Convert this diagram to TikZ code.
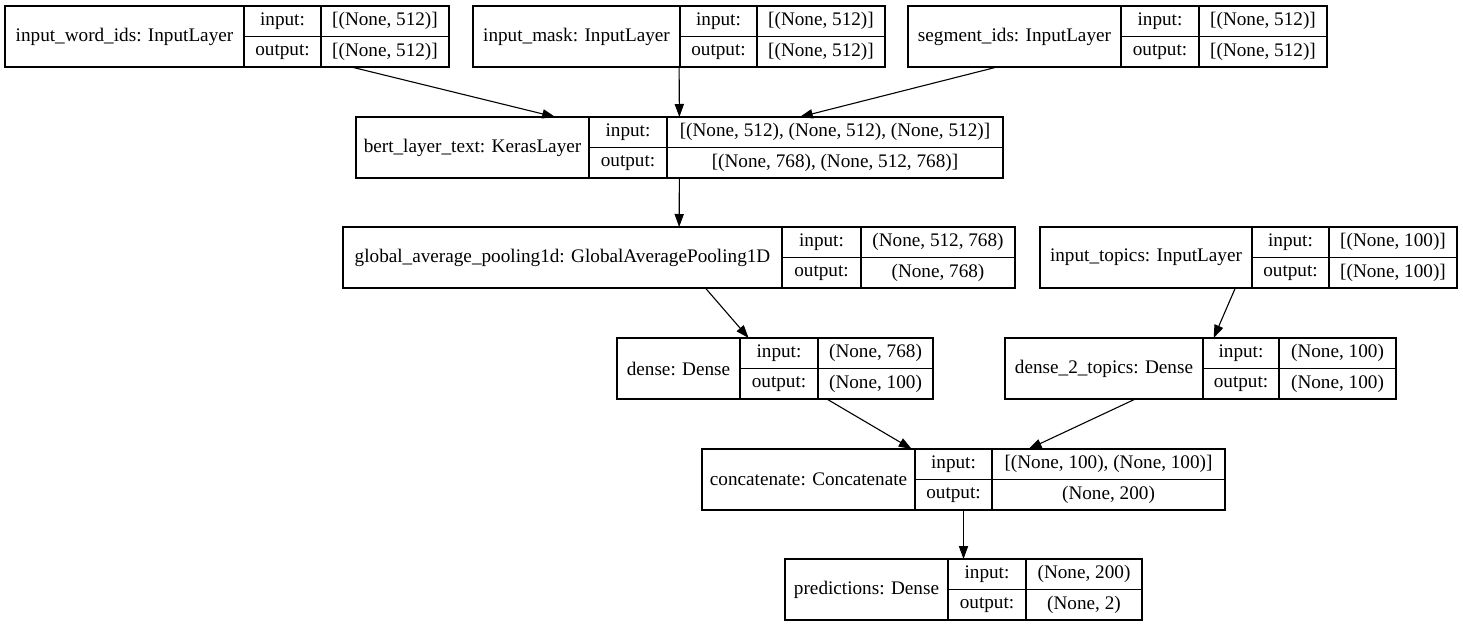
\documentclass[tikz,border=0pt]{standalone}
\usepackage{fontspec}
\setmainfont{Liberation Serif}
\usetikzlibrary{arrows.meta,positioning}

% one keras layer record: id, x1, x2, x3, x4, ytop, name, input, output
\newcommand{\kerasbox}[9]{%
\node[layer box, minimum width={(#5-#2)*0.5pt}, minimum height=30.5pt] (#1) at (#2,#6) {};
\node[cell box, minimum width={(#3-#2)*0.5pt}, minimum height=30.5pt] (#1-name) at (#2,#6) {#7};
\node[cell box, minimum width={(#4-#3)*0.5pt}] (#1-inl) at (#3,#6) {input:};
\node[cell box, minimum width={(#4-#3)*0.5pt}] (#1-outl) at ({#3},{#6+30.5}) {output:};
\node[cell box, minimum width={(#5-#4)*0.5pt}] (#1-in) at (#4,#6) {#8};
\node[cell box, minimum width={(#5-#4)*0.5pt}] (#1-out) at ({#4},{#6+30.5}) {#9};
}

\begin{document}
\begin{tikzpicture}[x=0.5pt, y=-0.5pt, font=\fontsize{9.6}{11}\selectfont,
layer box/.style={draw, line width=0.6pt, inner sep=0pt, outer sep=0pt, anchor=north west},
cell box/.style={draw, line width=0.6pt, inner sep=0pt, outer sep=0pt, anchor=north west, minimum height=15.25pt, align=center},
flow/.style={-{Triangle[length=6.5pt,width=4.6pt]}, line width=0.55pt}]
\useasboundingbox (0,0) rectangle (1463,627);
\begin{scope}
\kerasbox{wordids}{5}{244}{321}{449}{6}{input\_word\_ids: InputLayer}{[(None, 512)]}{[(None, 512)]}
\kerasbox{mask}{473}{680}{757}{885}{6}{input\_mask: InputLayer}{[(None, 512)]}{[(None, 512)]}
\kerasbox{segment}{908}{1121}{1199}{1327}{6}{segment\_ids: InputLayer}{[(None, 512)]}{[(None, 512)]}
\kerasbox{bert}{356}{589}{667}{1003}{117}{bert\_layer\_text: KerasLayer}{[(None, 512), (None, 512), (None, 512)]}{[(None, 768), (None, 512, 768)]}
\kerasbox{pool}{343}{782}{861}{1015}{227}{global\_average\_pooling1d: GlobalAveragePooling1D}{(None, 512, 768)}{(None, 768)}
\kerasbox{topics}{1040}{1252}{1329}{1457}{227}{input\_topics: InputLayer}{[(None, 100)]}{[(None, 100)]}
\kerasbox{dense}{617}{740}{818}{933}{338}{dense: Dense}{(None, 768)}{(None, 100)}
\kerasbox{densetopics}{1005}{1203}{1279}{1396}{338}{dense\_2\_topics: Dense}{(None, 100)}{(None, 100)}
\kerasbox{concat}{702}{915}{992}{1225}{449}{concatenate: Concatenate}{[(None, 100), (None, 100)]}{(None, 200)}
\kerasbox{pred}{785}{948}{1026}{1142}{559}{predictions: Dense}{(None, 200)}{(None, 2)}
\end{scope}
\begin{scope}
\draw[flow] (wordids) -- (bert);
\draw[flow] (mask) -- (bert);
\draw[flow] (segment) -- (bert);
\draw[flow] (bert) -- (pool);
\draw[flow] (pool) -- (dense);
\draw[flow] (topics) -- (densetopics);
\draw[flow] (dense) -- (concat);
\draw[flow] (densetopics) -- (concat);
\draw[flow] (concat) -- (pred);
\end{scope}
\end{tikzpicture}
\end{document}
